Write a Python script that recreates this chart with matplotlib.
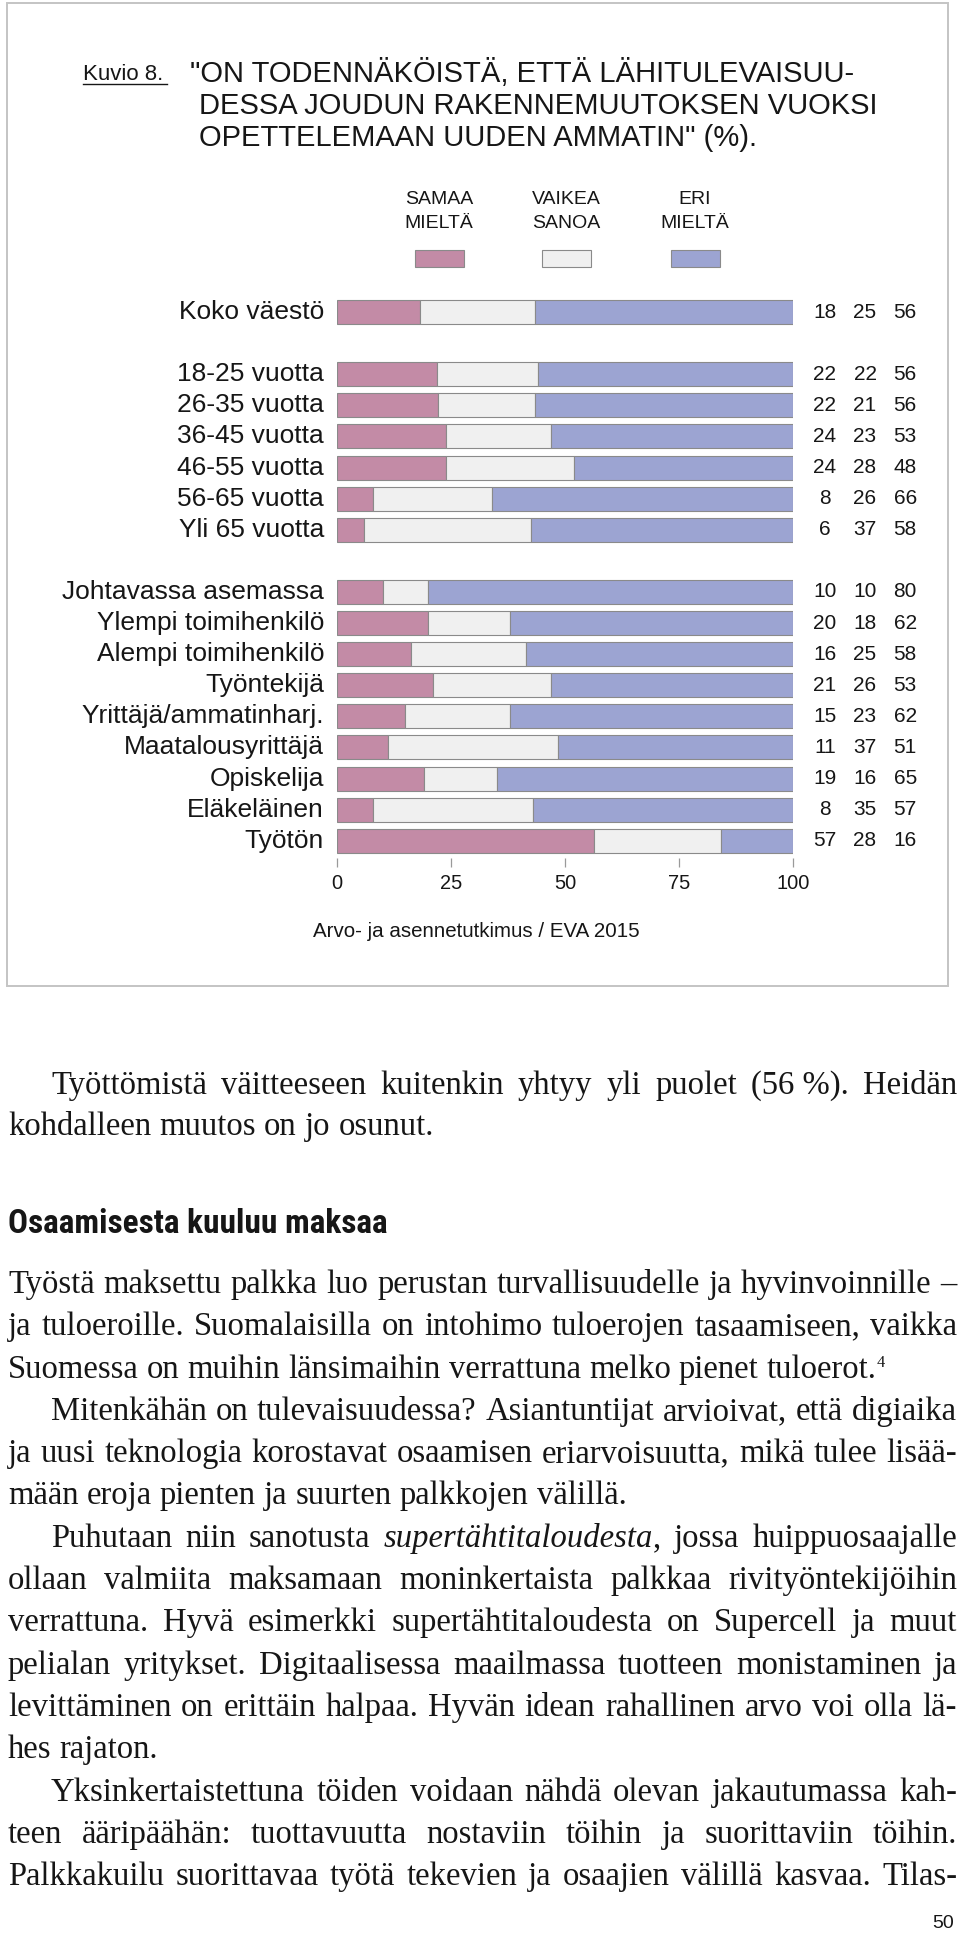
import re
import matplotlib
matplotlib.use("Agg")
import matplotlib.pyplot as plt
from matplotlib import font_manager as fm
from matplotlib.patches import Rectangle
from matplotlib.lines import Line2D

# ---------------- data ----------------
group_koko = ["Koko väestö"]
group_age = ["18-25 vuotta", "26-35 vuotta", "36-45 vuotta", "46-55 vuotta",
             "56-65 vuotta", "Yli 65 vuotta"]
group_occ = ["Johtavassa asemassa", "Ylempi toimihenkilö", "Alempi toimihenkilö",
             "Työntekijä", "Yrittäjä/ammatinharj.", "Maatalousyrittäjä",
             "Opiskelija", "Eläkeläinen", "Työtön"]
categories = group_koko + group_age + group_occ

samaa = [18, 22, 22, 24, 24, 8, 6, 10, 20, 16, 21, 15, 11, 19, 8, 57]
vaikea = [25, 22, 21, 23, 28, 26, 37, 10, 18, 25, 26, 23, 37, 16, 35, 28]
eri = [56, 56, 56, 53, 48, 66, 58, 80, 62, 58, 53, 62, 51, 65, 57, 16]

series_labels = [("SAMAA", "MIELTÄ"), ("VAIKEA", "SANOA"), ("ERI", "MIELTÄ")]
x_ticks = [0, 25, 50, 75, 100]

fig_label = "Kuvio 8."
title_lines = ['"ON TODENNÄKÖISTÄ, ETTÄ LÄHITULEVAISUU-',
               'DESSA JOUDUN RAKENNEMUUTOKSEN VUOKSI',
               'OPETTELEMAAN UUDEN AMMATIN" (%).']
source = "Arvo- ja asennetutkimus / EVA 2015"

heading = "Osaamisesta kuuluu maksaa"
# (text, indent, justify)
para_top = [
    ("Työttömistä väitteeseen kuitenkin yhtyy yli puolet (56\u00a0%). Heidän", True, True),
    ("kohdalleen muutos on jo osunut.", False, False),
]
para_body = [
    ("Työstä maksettu palkka luo perustan turvallisuudelle ja hyvinvoinnille –", False, True),
    ("ja tuloeroille. Suomalaisilla on intohimo tuloerojen tasaamiseen, vaikka", False, True),
    ("Suomessa on muihin länsimaihin verrattuna melko pienet tuloerot.^4", False, False),
    ("Mitenkähän on tulevaisuudessa? Asiantuntijat arvioivat, että digiaika", True, True),
    ("ja uusi teknologia korostavat osaamisen eriarvoisuutta, mikä tulee lisää-", False, True),
    ("mään eroja pienten ja suurten palkkojen välillä.", False, False),
    ("Puhutaan niin sanotusta _supertähtitaloudesta_, jossa huippuosaajalle", True, True),
    ("ollaan valmiita maksamaan moninkertaista palkkaa rivityöntekijöihin", False, True),
    ("verrattuna. Hyvä esimerkki supertähtitaloudesta on Supercell ja muut", False, True),
    ("pelialan yritykset. Digitaalisessa maailmassa tuotteen monistaminen ja", False, True),
    ("levittäminen on erittäin halpaa. Hyvän idean rahallinen arvo voi olla lä-", False, True),
    ("hes rajaton.", False, False),
    ("Yksinkertaistettuna töiden voidaan nähdä olevan jakautumassa kah-", True, True),
    ("teen ääripäähän: tuottavuutta nostaviin töihin ja suorittaviin töihin.", False, True),
    ("Palkkakuilu suorittavaa työtä tekevien ja osaajien välillä kasvaa. Tilas-", False, True),
]
page_no = "50"

# ---------------- style ----------------
W, H = 960, 1948
SANS = ["Liberation Sans", "DejaVu Sans"]
SERIF = ["Liberation Serif", "DejaVu Serif"]
TXT = "#161616"
colors = ["#C38BA6", "#F0F0F0", "#9CA4D2"]
edge = "#8a8a8a"

plt.rcParams["font.family"] = SANS

installed = {f.name for f in fm.fontManager.ttflist}
narrow = [n for n in installed if ("Condensed" in n or "Narrow" in n)]
narrow.sort(key=lambda n: (0 if ("Liberation" in n or "Roboto" in n) else 1, n))
if narrow:
    HEAD_FAM = [narrow[0], "Liberation Sans"]
    HEAD_CONDENSED = True
else:
    HEAD_FAM = ["Roboto", "Liberation Sans"]
    HEAD_CONDENSED = False

fig = plt.figure(figsize=(W / 100, H / 100), dpi=100)
fig.patch.set_facecolor("white")
renderer = fig.canvas.get_renderer()


def fx(px):
    return px / W


def fy(py):
    return 1 - py / H


def T(px, py, s, **kw):
    kw.setdefault("color", TXT)
    return fig.text(fx(px), fy(py), s, **kw)


# frame box
fig.patches.append(Rectangle((fx(7), fy(986)), fx(948) - fx(7), fy(3) - fy(986),
                             transform=fig.transFigure, fill=False,
                             edgecolor="#c4c4c4", linewidth=1.4))

# title
T(83, 80, fig_label, fontsize=16, family=SANS, va="baseline", ha="left")
fig.lines.append(Line2D([fx(83), fx(167)], [fy(83.5), fy(83.5)],
                        transform=fig.transFigure, color=TXT, linewidth=1))
title_x = [190, 199, 199]
title_base = [82, 114, 146]
for s, x, yb in zip(title_lines, title_x, title_base):
    T(x, yb, s, fontsize=21, va="baseline", ha="left")

# legend
leg_cx = [439, 566, 695]
for (l1, l2), cx, c in zip(series_labels, leg_cx, colors):
    T(cx, 199, l1, fontsize=14, ha="center", va="center")
    T(cx, 224, l2, fontsize=14, ha="center", va="center")
    fig.patches.append(Rectangle((fx(cx - 24.5), fy(267)), 49 / W, 17 / H,
                                 transform=fig.transFigure, facecolor=c,
                                 edgecolor=edge, linewidth=0.8))

# ---------------- bar chart ----------------
row_top_px, row_step_px, spine_px = 312, 31.1, 858
positions = []
p = 0
for g in (group_koko, group_age, group_occ):
    for _ in g:
        positions.append(p)
        p += 1
    p += 1
ymax = (spine_px - row_top_px) / row_step_px
top_px = row_top_px - 0.5 * row_step_px
ax = fig.add_axes([fx(337), fy(spine_px), (793 - 337) / W, (spine_px - top_px) / H])
ax.set_xlim(0, 100)
ax.set_ylim(ymax, -0.5)
ax.patch.set_alpha(0)

totals = [a + b + c for a, b, c in zip(samaa, vaikea, eri)]
left = [0.0] * len(categories)
for vals, c in zip((samaa, vaikea, eri), colors):
    share = [v / t * 100 for v, t in zip(vals, totals)]
    ax.barh(positions, share, left=left, height=24 / row_step_px, color=c,
            edgecolor=edge, linewidth=0.8)
    left = [l + s for l, s in zip(left, share)]

for sp in ax.spines.values():
    sp.set_visible(False)
ax.set_yticks([])
ax.set_xticks(x_ticks)
ax.set_xticklabels([str(t) for t in x_ticks], fontsize=14.4, color=TXT)
ax.tick_params(axis="x", direction="out", length=6.5, width=0.9, color="#9a9a9a", pad=5)

for cat, pos in zip(categories, positions):
    ax.text(-2.85, pos, cat, ha="right", va="center", fontsize=19, color=TXT, clip_on=False)
num_x = [107.0, 115.8, 124.6]
for i, pos in enumerate(positions):
    for vals, nx in zip((samaa, vaikea, eri), num_x):
        ax.text(nx, pos, str(vals[i]), ha="center", va="center", fontsize=15,
                color=TXT, clip_on=False)

T(476, 932, source, fontsize=14.8, ha="center", va="center")

# ---------------- body text ----------------
BODY_FS = 23.5
X0, X1, INDENT = 8, 957, 43


def segs(word):
    out = []
    for m in re.finditer(r"_([^_]+)_|\^(\d+)|([^_^]+)", word):
        if m.group(1):
            out.append((m.group(1), "italic"))
        elif m.group(2):
            out.append((m.group(2), "sup"))
        else:
            out.append((m.group(3), "normal"))
    return out


def width(t):
    return t.get_window_extent(renderer=renderer).width


space_w = None


def body_line(text, indent, justify, yb):
    global space_w
    if space_w is None:
        a = T(0, yb, "n n", family=SERIF, fontsize=BODY_FS)
        b = T(0, yb, "nn", family=SERIF, fontsize=BODY_FS)
        space_w = width(a) - width(b)
        a.remove()
        b.remove()
    words = text.split(" ")
    items = []
    for w in words:
        parts = []
        for s, kind in segs(w):
            kw = dict(family=SERIF, fontsize=BODY_FS, va="baseline", ha="left")
            dy = 0
            if kind == "italic":
                kw["style"] = "italic"
            if kind == "sup":
                kw["fontsize"] = BODY_FS * 0.5
                dy = -11
            t = T(0, yb + dy, s, **kw)
            parts.append((t, width(t)))
        items.append(parts)
    wlen = [sum(pw for _, pw in parts) for parts in items]
    xs = X0 + (INDENT if indent else 0)
    if justify and len(items) > 1:
        gap = (X1 - xs - sum(wlen)) / (len(items) - 1)
    else:
        gap = space_w
    x = xs
    for parts, wl in zip(items, wlen):
        cx = x
        for t, pw in parts:
            t.set_x(fx(cx))
            cx += pw
        x += wl + gap


yb = 1094
for text, ind, jus in para_top:
    body_line(text, ind, jus, yb)
    yb += 41

head = T(X0, 1233, heading, family=HEAD_FAM, weight="bold", fontsize=24,
         va="baseline", ha="left")
hw = width(head)
hfs = 24 * 381 / hw
if not HEAD_CONDENSED:
    hfs = max(hfs, 22)
head.set_fontsize(hfs)

yb = 1293
for text, ind, jus in para_body:
    body_line(text, ind, jus, yb)
    yb += 42.3

T(954, 1924, page_no, fontsize=14, ha="right", va="center", family=SANS)

fig.savefig("out.png", dpi=100, facecolor="white")
